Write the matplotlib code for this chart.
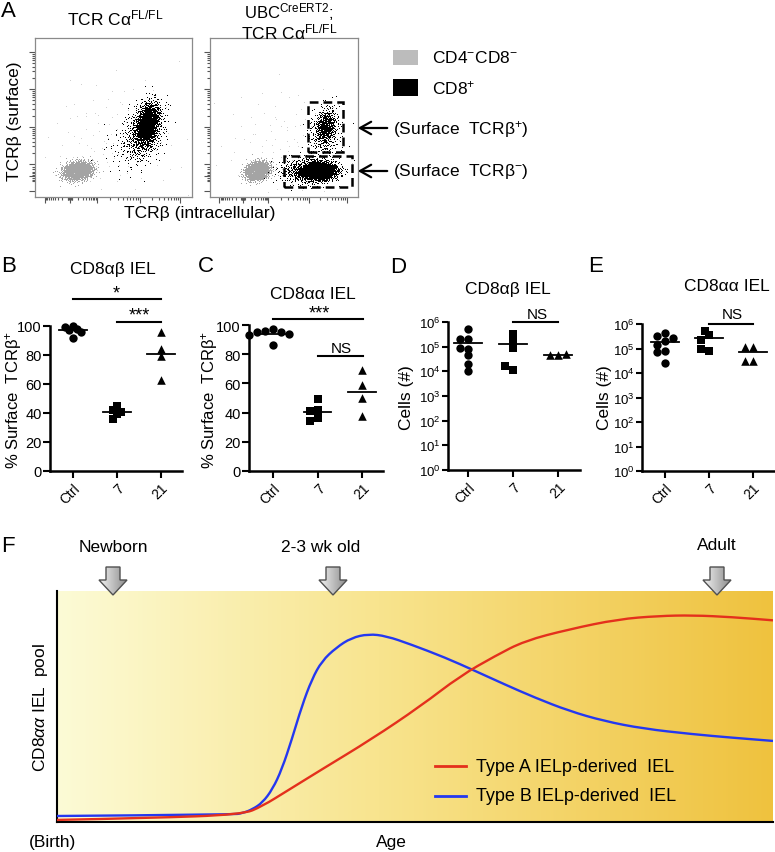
import numpy as np
import matplotlib
matplotlib.use('Agg')
import matplotlib.pyplot as plt
from matplotlib.patches import Rectangle, Polygon, PathPatch
from matplotlib.path import Path

plt.rcParams['font.family'] = ['Liberation Sans', 'DejaVu Sans']
plt.rcParams['mathtext.fontset'] = 'custom'
plt.rcParams['mathtext.rm'] = 'Liberation Sans'
plt.rcParams['mathtext.it'] = 'Liberation Sans:italic'
plt.rcParams['mathtext.bf'] = 'Liberation Sans:bold'

# ---------------- DATA ----------------
# Panel A: flow clusters (x centre, y centre, x sd, y sd, correlation, events)
flowL_gray = [(0.27, 0.16, 0.045, 0.028, 0.2, 1800), (0.50, 0.35, 0.22, 0.20, 0.0, 120)]
flowL_black = [(0.715, 0.46, 0.036, 0.062, 0.3, 1500), (0.69, 0.40, 0.065, 0.09, 0.3, 650),
               (0.58, 0.30, 0.08, 0.08, 0.0, 60)]
flowR_gray = [(0.32, 0.16, 0.040, 0.028, 0.2, 1500), (0.50, 0.33, 0.22, 0.18, 0.0, 100)]
flowR_black = [(0.74, 0.16, 0.055, 0.026, 0.0, 2100), (0.66, 0.16, 0.09, 0.04, 0.0, 700),
               (0.78, 0.44, 0.036, 0.055, 0.2, 500), (0.77, 0.38, 0.06, 0.09, 0.2, 250)]
gate_upper = (0.66, 0.28, 0.90, 0.60)
gate_lower = (0.50, 0.06, 0.96, 0.26)

groups = ['Ctrl', '7', '21']
# Panel B: CD8ab IEL % surface TCRb+
b_vals = [[100, 99, 98, 97, 96, 92], [45, 42, 41, 39, 36], [96, 84, 79, 63]]
# Panel C: CD8aa IEL % surface TCRb+
c_vals = [[97, 96, 95, 95, 94, 93, 86], [49, 42, 41, 36, 34], [69, 59, 50, 38]]
# Panel D: CD8ab IEL cell numbers
d_vals = [[5.0e5, 2.0e5, 2.1e5, 8.3e4, 8.9e4, 4.5e4, 1.9e4, 1.07e4],
          [1.7e5, 3.4e5, 9.1e4, 1.1e4, 1.6e4], [4.5e4, 4.5e4, 5.2e4]]
# Panel E: CD8aa IEL cell numbers
e_vals = [[4.2e5, 3.2e5, 2.8e5, 2.0e5, 1.4e5, 7.9e4, 7.1e4, 2.5e4],
          [3.5e5, 5.4e5, 2.3e5, 7.8e4, 1.0e5], [1.17e5, 1.17e5, 2.95e4, 2.95e4]]

# Panel F: schematic curves (x = age, % of axis; y = pool size, % of axis)
blue_x = [0, 24.5, 25.9, 27.3, 28.7, 30.1, 31.4, 32.8, 34.2, 35.6, 37.0, 39.0, 41.1, 43.5, 46.0,
          49.4, 54.2, 58.4, 62.5, 66.7, 71.5, 76.4, 81.9, 88.8, 94.3, 100]
blue_y = [2.6, 3.2, 3.8, 5.5, 8.4, 14.2, 22.8, 35.8, 50.2, 61.8, 69.7, 75.5, 79.7, 81.4, 80.5,
          76.9, 71.2, 65.4, 59.6, 53.9, 48.1, 43.7, 40.4, 38.0, 36.5, 35.1]
red_x = [0, 12.8, 25.9, 28.7, 32.1, 37.0, 43.9, 50.8, 56.3, 61.2, 65.3, 71.5, 78.4, 84.0, 88.8, 94.3, 100]
red_y = [0.9, 1.7, 3.2, 6.9, 13.4, 22.8, 35.8, 50.2, 63.2, 71.9, 78.4, 83.4, 87.8, 89.2, 89.5, 88.7, 87.3]

# ---------------- FIGURE ----------------
W, H = 775, 853
fig = plt.figure(figsize=(W / 100, H / 100), dpi=100)


def add_ax(l, t, r, b, **kw):
    return fig.add_axes([l / W, 1 - b / H, (r - l) / W, (b - t) / H], **kw)


ov = fig.add_axes([0, 0, 1, 1], zorder=20)
ov.set_xlim(0, W)
ov.set_ylim(H, 0)
ov.axis('off')
ov.patch.set_alpha(0)


def T(x, y, s, size=12, ha='center', va='center', **kw):
    ov.text(x, y, s, fontsize=size, ha=ha, va=va, **kw)


# ---------- Panel A ----------
def halton(n, base, start):
    out = np.empty(n)
    for k in range(n):
        i = k + start
        f, r = 1.0, 0.0
        while i > 0:
            f /= base
            r += f * (i % base)
            i //= base
        out[k] = r
    return out


def cluster_pts(c, start):
    cx, cy, sx, sy, rho, n = c
    u1 = np.clip(halton(n, 2, start), 1e-6, 1)
    u2 = halton(n, 3, start)
    rr = np.sqrt(-2 * np.log(u1))
    z1 = rr * np.cos(2 * np.pi * u2)
    z2 = rr * np.sin(2 * np.pi * u2)
    x = cx + sx * z1
    y = cy + sy * (rho * z1 + np.sqrt(1 - rho ** 2) * z2)
    return x, y


def flow_axes(ax, gray, black, seed0):
    st = seed0
    for i, c in enumerate(gray):
        x, y = cluster_pts(c, st)
        st += c[5] + 37
        col = '#a4a4a4' if i == 0 else '#d0d0d0'
        ax.plot(x, y, ',', color=col)
    for c in black:
        x, y = cluster_pts(c, st)
        st += c[5] + 53
        ax.plot(x, y, ',', color='black')
    ax.set_xlim(0, 1)
    ax.set_ylim(0, 1)
    for s in ax.spines.values():
        s.set_color('#8a8a8a')
        s.set_linewidth(0.9)
    xmaj = [0.064, 0.223, 0.395, 0.669, 0.924]
    ymaj = [0.038, 0.13, 0.208, 0.44, 0.679, 0.912]
    lg = np.log10(np.arange(2, 10))
    xmin = list(0.223 + np.array([-0.015, -0.01, -0.005, 0.005, 0.01, 0.015]))
    xmin += list(0.064 + (0.223 - 0.064) * (1 - lg))
    for a, b in [(0.223, 0.395), (0.395, 0.669), (0.669, 0.924)]:
        xmin += list(a + (b - a) * lg)
    xmin += [0.924 + 0.255 * v for v in lg if 0.924 + 0.255 * v < 0.99]
    ymin = list(0.13 + np.array([-0.03, -0.02, -0.01, 0.01, 0.02, 0.03, 0.045, 0.06]))
    for a, b in [(0.208, 0.44), (0.44, 0.679), (0.679, 0.912)]:
        ymin += list(a + (b - a) * lg)
    ax.set_xticks(xmaj)
    ax.set_yticks(ymaj)
    ax.set_xticks(xmin, minor=True)
    ax.set_yticks(ymin, minor=True)
    ax.tick_params(which='both', direction='out', colors='#555555', labelleft=False,
                   labelbottom=False, width=0.8)
    ax.tick_params(which='major', length=4)
    ax.tick_params(which='minor', length=2)


axA1 = add_ax(35, 39, 192, 198)
flow_axes(axA1, flowL_gray, flowL_black, 1)
axA2 = add_ax(210, 39, 358, 198)
flow_axes(axA2, flowR_gray, flowR_black, 5000)
for g in (gate_upper, gate_lower):
    axA2.add_patch(Rectangle((g[0], g[1]), g[2] - g[0], g[3] - g[1], fill=False, ec='black',
                             lw=1.8, ls=(0, (3.5, 2)), clip_on=False, zorder=5))

T(1, 11, 'A', size=16, ha='left')
T(115, 18, r'TCR Cα$^{\mathregular{FL/FL}}$', size=12.5)
T(289, 12, r'UBC$^{\mathregular{CreERT2}}$;', size=12)
T(289, 32, r'TCR Cα$^{\mathregular{FL/FL}}$', size=12.5)
T(15, 121, 'TCRβ (surface)', size=12.5, rotation=90)
T(200, 213, 'TCRβ (intracellular)', size=12.5)
ov.add_patch(Rectangle((393, 51), 25, 15, fc='#bcbcbc', ec='none'))
ov.add_patch(Rectangle((393, 80), 25, 17, fc='black', ec='none'))
T(432, 58, r'CD4$^{\mathregular{-}}$CD8$^{\mathregular{-}}$', size=12.5, ha='left')
T(432, 88, r'CD8$^{\mathregular{+}}$', size=12.5, ha='left')
T(393, 129, r'(Surface  TCRβ$^{\mathregular{+}}$)', size=12.5, ha='left')
T(393, 171, r'(Surface  TCRβ$^{\mathregular{-}}$)', size=12.5, ha='left')
for yy in (129, 172):
    ov.annotate('', xy=(355, yy), xytext=(390, yy),
                arrowprops=dict(arrowstyle='->,head_length=0.8,head_width=0.45', lw=1.6, color='black'))


# ---------- Panels B-E ----------
def swarm_x(ax, xc, vals, diam, fac):
    pts = ax.transData.transform(np.column_stack([np.full(len(vals), float(xc)), vals]))
    placed = []
    xs = []
    for px, py in pts:
        best = None
        for k in range(0, 20):
            for sgn in ([0] if k == 0 else [-1, 1]):
                cand = px + sgn * k * 0.5 * diam
                if all((cand - qx) ** 2 + (py - qy) ** 2 >= (fac * diam) ** 2 for qx, qy in placed):
                    best = cand
                    break
            if best is not None:
                break
        placed.append((best, py))
        xs.append(best)
    inv = ax.transData.inverted()
    return [inv.transform((x, p[1]))[0] for x, p in zip(xs, pts)]


markers = ['o', 's', '^']
msizes = [36, 30, 38]


def dot_panel(ax, vals, log=False, xlim=(-0.52, 2.48), fac=0.75):
    if log:
        ax.set_yscale('log')
        ax.set_ylim(1, 1e6)
    else:
        ax.set_ylim(0, 100)
    ax.set_xlim(*xlim)
    for s in ['top', 'right']:
        ax.spines[s].set_visible(False)
    for s in ['left', 'bottom']:
        ax.spines[s].set_linewidth(1.8)
    for i, v in enumerate(vals):
        xs = swarm_x(ax, i, v, 8.0, fac)
        ax.scatter(xs, v, marker=markers[i], s=msizes[i], c='black', linewidths=0, clip_on=False, zorder=3)
        m = np.mean(v)
        ax.plot([i - 0.31, i + 0.31], [m, m], color='black', lw=1.3, clip_on=False, zorder=4)
    ax.set_xticks([0, 1, 2])
    ax.set_xticklabels(groups, rotation=45, ha='right', rotation_mode='anchor', fontsize=10)
    ax.tick_params(axis='x', length=5, width=1.5, pad=2)
    if log:
        ax.set_yticks([10.0 ** k for k in range(7)])
        ax.set_yticklabels([r'$\mathregular{10^{%d}}$' % k for k in range(7)], fontsize=9.5)
        ax.tick_params(axis='y', which='major', length=4, width=1.5, pad=1)
        ax.tick_params(axis='y', which='minor', length=3, width=1.0)
        ax.tick_params(axis='x', which='minor', length=0)
    else:
        ax.set_yticks(range(0, 101, 20))
        ax.set_yticklabels([str(k) for k in range(0, 101, 20)], fontsize=10.5)
        ax.tick_params(axis='y', length=5, width=1.5, pad=1)


def sig_bar(ax, x0, x1, y):
    ax.plot([x0, x1], [y, y], color='black', lw=1.5, clip_on=False)


axB = add_ax(50, 327, 182, 472)
dot_panel(axB, b_vals, fac=0.6)
sig_bar(axB, 0, 2, 118.6)
sig_bar(axB, 1, 2, 102.8)
axC = add_ax(249, 326, 383, 472)
dot_panel(axC, c_vals, xlim=(-0.54, 2.47), fac=0.75)
sig_bar(axC, 0, 2.02, 104.1)
sig_bar(axC, 1, 2.02, 78.8)
axD = add_ax(448, 323, 580, 471)
dot_panel(axD, d_vals, log=True, xlim=(-0.44, 2.48))
sig_bar(axD, 1, 2, 1e6)
axE = add_ax(642, 325, 774, 472)
dot_panel(axE, e_vals, log=True, xlim=(-0.52, 2.48))
sig_bar(axE, 1, 2, 1e6)

T(1, 266, 'B', size=16, ha='left')
T(113, 269, 'CD8αβ IEL', size=12.5)
T(116, 294, '*', size=13)
T(139, 316, '***', size=13)
T(13, 400, r'% Surface  TCRβ$^{\mathregular{+}}$', size=12, rotation=90)
T(198, 266, 'C', size=16, ha='left')
T(313, 294, 'CD8αα IEL', size=12.5)
T(319, 314, '***', size=13)
T(341, 349, 'NS', size=11)
T(210, 400, r'% Surface  TCRβ$^{\mathregular{+}}$', size=12, rotation=90)
T(390, 267, 'D', size=16, ha='left')
T(508, 289, 'CD8αβ IEL', size=12.5)
T(537, 315, 'NS', size=11)
T(407, 398, 'Cells (#)', size=12.5, rotation=90)
T(588, 266, 'E', size=16, ha='left')
T(727, 286, 'CD8αα IEL', size=12.5)
T(732, 315, 'NS', size=11)
T(604, 398, 'Cells (#)', size=12.5, rotation=90)

# ---------- Panel F ----------
axF = add_ax(57, 592, 773, 823)
stops = np.array([[0.0, 252, 251, 214], [0.45, 248, 228, 142], [1.0, 239, 194, 62]])
xx = np.linspace(0, 1, 400)
grad = np.stack([np.interp(xx, stops[:, 0], stops[:, k]) for k in (1, 2, 3)], axis=-1) / 255.0
axF.imshow(grad[None, :, :], extent=(0, 100, 0, 100), aspect='auto', zorder=0)


def smooth_path(xs, ys):
    # quadratic B-spline style path: the read points act as control points
    v = [(xs[0], ys[0])]
    c = [Path.MOVETO]
    for i in range(1, len(xs) - 1):
        v.append((xs[i], ys[i]))
        v.append(((xs[i] + xs[i + 1]) / 2, (ys[i] + ys[i + 1]) / 2))
        c += [Path.CURVE3, Path.CURVE3]
    v.append((xs[-1], ys[-1]))
    c.append(Path.LINETO)
    return Path(v, c)


axF.add_patch(PathPatch(smooth_path(blue_x, blue_y), fc='none', ec='#2438f0', lw=1.7, zorder=3))
axF.add_patch(PathPatch(smooth_path(red_x, red_y), fc='none', ec='#e4301c', lw=1.7, zorder=4))
axF.set_xlim(0, 100)
axF.set_ylim(0, 100)
axF.set_xticks([])
axF.set_yticks([])
for s in ['top', 'right']:
    axF.spines[s].set_visible(False)
for s in ['left', 'bottom']:
    axF.spines[s].set_linewidth(1.5)

T(1, 546, 'F', size=16, ha='left')
T(113, 547, 'Newborn', size=12.5)
T(321, 548, '2-3 wk old', size=12.5)
T(717, 546, 'Adult', size=12.5)
T(53, 843, '(Birth)', size=12.5)
T(391, 843, 'Age', size=12.5)
T(40, 708, r'CD8$\alpha\alpha$ IEL  pool', size=12.5, rotation=90)
ov.plot([435, 466], [767, 767], color='#e4301c', lw=2)
ov.plot([435, 466], [797, 797], color='#2438f0', lw=2)
T(476, 767, 'Type A IELp-derived  IEL', size=13, ha='left')
T(476, 797, 'Type B IELp-derived  IEL', size=13, ha='left')

agrad = np.linspace(0.95, 0.55, 50)
agrad_img = np.stack([agrad, agrad, agrad], axis=-1)[None, :, :]
for cx in (113, 333, 717):
    verts = [(cx - 7, 568), (cx + 7, 568), (cx + 7, 581), (cx + 14, 581), (cx, 596),
             (cx - 14, 581), (cx - 7, 581)]
    poly = Polygon(verts, closed=True, fc='none', ec='#505050', lw=1.0, zorder=22)
    ov.add_patch(poly)
    im = ov.imshow(agrad_img, extent=(cx - 14, cx + 14, 596, 568), aspect='auto', zorder=21)
    im.set_clip_path(poly)
ov.set_xlim(0, W)
ov.set_ylim(H, 0)

fig.savefig('out.png', dpi=100)
